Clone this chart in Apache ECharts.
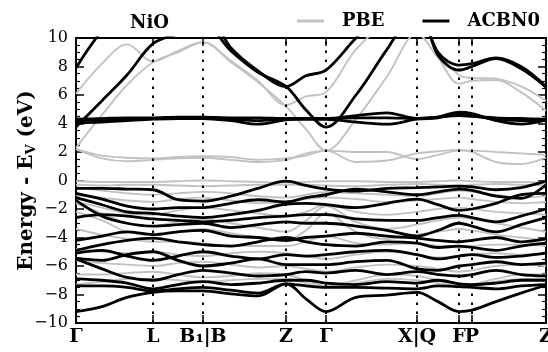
<!DOCTYPE html>
<html>
<head>
<meta charset="utf-8">
<script src="https://cdn.jsdelivr.net/npm/echarts@6/dist/echarts.min.js"></script>
<style>
html,body{margin:0;padding:0;background:#fff;}
#chart{width:548px;height:352px;}
</style>
</head>
<body>
<div id="chart"></div>
<script>
// k-path sampling positions (path coordinate) and high-symmetry labels
const kPath = [0, 26, 51, 77, 102, 127, 155, 182, 210, 230, 250, 280, 311, 341, 362, 383, 396, 420, 445, 470];
const kTicks = [0, 77, 127, 210, 250, 341, 383, 396, 470];
const kLabels = ['Γ', 'L', 'B₁|B', 'Z', 'Γ', 'X|Q', 'F', 'P', 'Z'];
const energyMin = -10, energyMax = 10, energyStep = 2;

// PBE bands (grey), energies in eV at each kPath point
const pbeBands = [
  [2.2,1.75,1.6,1.55,1.65,1.7,1.65,1.45,1.55,1.75,2.1,1.3,1.4,1.9,2.05,2.15,2.0,1.3,1.15,1.6],
  [2.2,1.55,1.35,1.45,1.55,1.6,1.45,1.3,1.45,1.9,2.1,2.0,2.0,1.5,1.8,2.1,2.1,2.0,1.9,1.8],
  [6.1,8.2,9.55,8.35,9.1,9.7,8.3,6.9,5.2,3.6,2.1,4.3,7.3,10.3,8.6,6.8,7.0,7.05,6.2,4.9],
  [2.3,4.6,6.7,8.3,9.0,9.7,8.4,7.0,5.3,5.9,6.2,9.2,11,11.5,9.0,7.4,7.2,7.15,6.6,5.6],
  [-0.05,-0.1,-0.1,-0.1,-0.05,0.0,-0.05,-0.1,-0.15,-0.1,-0.05,-0.05,-0.1,-0.1,-0.05,0.0,-0.05,-0.1,-0.1,-0.15],
  [-0.3,-0.35,-0.3,-0.3,-0.35,-0.4,-0.35,-0.3,-0.3,-0.3,-0.35,-0.4,-0.3,-0.25,-0.3,-0.35,-0.3,-0.25,-0.3,-0.35],
  [-0.5,-0.7,-0.9,-1.0,-0.9,-0.8,-0.9,-1.1,-1.2,-1.0,-0.8,-0.9,-1.0,-1.1,-0.9,-0.7,-0.8,-1.0,-1.2,-1.1],
  [-1.0,-1.2,-1.4,-1.5,-1.3,-1.2,-1.4,-1.6,-1.5,-1.3,-1.2,-1.3,-1.5,-1.4,-1.3,-1.2,-1.3,-1.5,-1.6,-1.5],
  [-1.5,-1.9,-2.3,-2.4,-2.1,-1.9,-2.1,-2.3,-2.5,-2.2,-1.7,-2.2,-2.4,-2.2,-2.0,-1.9,-2.0,-2.2,-2.3,-2.4],
  [-1.6,-2.3,-3.0,-3.2,-2.9,-2.7,-3.0,-3.3,-3.6,-2.8,-1.8,-2.9,-3.4,-3.1,-2.8,-2.6,-2.7,-3.0,-3.3,-3.6],
  [-2.2,-2.8,-3.6,-3.8,-3.6,-3.4,-3.7,-4.0,-4.2,-3.5,-2.3,-3.6,-4.1,-3.8,-3.6,-3.4,-3.5,-3.8,-4.0,-4.2],
  [-3.4,-3.8,-4.1,-4.3,-4.3,-4.4,-4.6,-4.6,-4.6,-4.3,-3.9,-4.4,-4.5,-4.4,-4.6,-4.7,-4.6,-4.5,-4.5,-4.6],
  [-4.8,-5.0,-5.1,-5.0,-5.2,-5.3,-5.1,-5.0,-5.1,-5.3,-5.5,-5.2,-5.0,-5.2,-5.4,-5.3,-5.2,-5.1,-5.2,-5.1],
  [-5.6,-5.8,-5.9,-6.0,-5.8,-5.7,-5.9,-6.1,-6.0,-6.2,-6.4,-6.1,-5.9,-6.0,-6.2,-6.4,-6.3,-6.0,-5.9,-6.0],
  [-6.6,-6.6,-6.5,-6.4,-6.6,-6.8,-6.7,-6.5,-6.6,-7.0,-7.4,-7.0,-6.6,-6.7,-7.0,-7.4,-7.3,-6.9,-6.6,-6.6],
  [-7.3,-7.1,-6.9,-6.9,-7.0,-7.1,-7.0,-6.9,-6.9,-7.2,-7.5,-7.2,-6.9,-7.0,-7.2,-7.5,-7.4,-7.1,-6.9,-6.9]
];

// ACBN0 bands (black), energies in eV at each kPath point
const acbn0Bands = [
  [4.3,4.35,4.4,4.4,4.45,4.45,4.4,4.4,4.35,4.35,4.35,4.4,4.4,4.35,4.45,4.55,4.5,4.4,4.35,4.3],
  [4.05,4.1,4.2,4.3,4.35,4.35,4.2,3.95,4.25,4.35,4.35,4.55,4.75,4.35,4.45,4.8,4.7,4.2,3.95,4.25],
  [4.2,4.25,4.3,4.35,4.4,4.4,4.3,4.2,4.3,4.3,4.3,4.1,3.95,4.3,4.4,4.7,4.55,4.3,4.2,4.2],
  [3.75,5.6,7.4,9.6,10.3,11,9.1,7.6,6.6,4.95,3.75,6.0,9.2,12,9.0,8.1,8.2,8.6,8.0,6.6],
  [7.9,10.5,12,12,12,12,9.3,7.7,6.6,7.35,7.75,10.0,12,12,8.8,7.75,8.0,8.55,7.85,6.55],
  [-0.55,-0.55,-0.6,-0.65,-1.35,-1.45,-1.1,-0.55,-0.05,-0.35,-0.6,-0.75,-0.55,-0.5,-0.45,-0.4,-0.45,-0.65,-0.5,-0.05],
  [-0.9,-1.3,-1.8,-2.0,-1.9,-1.9,-1.6,-1.35,-1.5,-1.2,-1.0,-0.6,-0.8,-1.0,-0.8,-0.6,-0.7,-1.1,-1.25,-0.3],
  [-1.2,-1.7,-2.2,-2.3,-2.5,-2.6,-2.4,-2.1,-1.65,-1.6,-1.7,-1.9,-1.6,-1.3,-1.7,-2.1,-2.0,-1.6,-1.0,-0.9],
  [-2.6,-2.4,-2.5,-2.7,-2.8,-2.9,-2.8,-2.6,-2.5,-2.4,-2.4,-2.7,-2.8,-2.8,-2.6,-2.45,-2.6,-2.9,-2.5,-2.0],
  [-1.4,-2.5,-3.0,-3.2,-3.1,-3.0,-3.3,-3.1,-2.9,-3.0,-3.0,-3.2,-3.5,-3.9,-3.5,-3.0,-3.2,-3.6,-3.1,-2.6],
  [-4.2,-3.9,-3.6,-3.8,-3.6,-3.5,-3.9,-4.0,-4.2,-4.0,-3.9,-3.7,-3.9,-4.05,-4.2,-4.3,-4.2,-4.0,-4.3,-4.1],
  [-4.9,-4.5,-4.2,-4.05,-4.3,-4.5,-4.6,-4.3,-4.0,-4.3,-4.5,-4.6,-4.3,-4.4,-4.7,-4.6,-4.7,-4.9,-4.6,-4.4],
  [-5.1,-4.9,-5.3,-5.6,-5.3,-5.0,-5.3,-5.5,-5.2,-5.3,-5.2,-5.0,-4.9,-5.2,-5.5,-5.3,-5.2,-5.4,-5.3,-5.1],
  [-5.45,-5.6,-5.2,-5.0,-5.6,-6.0,-5.8,-5.5,-5.9,-5.9,-5.9,-5.7,-5.6,-6.2,-6.3,-6.0,-5.9,-5.7,-5.9,-5.8],
  [-5.5,-6.2,-6.8,-7.0,-6.6,-6.3,-6.5,-6.7,-6.6,-6.4,-6.5,-6.3,-6.6,-6.4,-6.6,-6.7,-6.6,-6.3,-6.6,-6.7],
  [-6.9,-7.0,-7.2,-7.6,-7.3,-7.1,-7.3,-7.2,-7.0,-7.0,-7.2,-7.3,-7.1,-7.2,-7.0,-7.25,-7.3,-7.2,-7.0,-7.0],
  [-7.4,-7.4,-7.5,-7.75,-7.6,-7.5,-7.7,-7.9,-7.25,-7.4,-7.5,-7.5,-7.55,-7.6,-7.4,-7.45,-7.5,-7.6,-7.4,-7.3],
  [-9.2,-8.85,-8.2,-7.85,-7.75,-7.75,-7.95,-8.1,-7.25,-8.3,-9.2,-8.2,-8.05,-7.85,-8.5,-9.2,-9.1,-8.5,-7.9,-7.35]
];

const PBE_COLOR = '#c2c2c2';
const ACBN0_COLOR = '#000000';
const SERIF = 'DejaVu Serif';

function labelFor(v) {
  const i = kTicks.indexOf(v);
  return i >= 0 ? kLabels[i] : '';
}

function bandSeries(bands, name, color, width, z) {
  return bands.map(b => ({
    type: 'line',
    name: name,
    data: kPath.map((k, i) => [k, b[i]]),
    showSymbol: false,
    symbol: 'none',
    smooth: 0.35,
    clip: true,
    silent: true,
    color: color,
    itemStyle: { color: color },
    lineStyle: { color: color, width: width },
    z: z
  }));
}

const series = [
  {
    type: 'line',
    name: 'kdivs',
    data: [],
    silent: true,
    z: 1,
    markLine: {
      silent: true,
      symbol: ['none', 'none'],
      label: { show: false },
      lineStyle: { color: '#000', width: 2, type: [2.5, 6.5] },
      data: kTicks.slice(1, -1).map(k => ({ xAxis: k }))
    }
  },
  ...bandSeries(pbeBands, 'PBE', PBE_COLOR, 1.9, 2),
  ...bandSeries(acbn0Bands, 'ACBN0', ACBN0_COLOR, 2.8, 3)
];

const axisLine = { show: true, onZero: false, lineStyle: { color: '#000', width: 2 } };

const chart = echarts.init(document.getElementById('chart'), null, { renderer: 'canvas' });
chart.setOption({
  animation: false,
  backgroundColor: '#fff',
  title: {
    text: 'NiO', left: 125, top: 9,
    textStyle: { fontFamily: SERIF, fontWeight: 'bold', fontSize: 18, color: '#000' }
  },
  legend: {
    data: ['PBE', 'ACBN0'],
    left: 297, top: 12, width: 251, padding: 0,
    icon: 'rect', itemWidth: 27, itemHeight: 3, itemGap: 38,
    selectedMode: false,
    textStyle: { fontFamily: SERIF, fontWeight: 'bold', fontSize: 18, color: '#000', padding: [0, 0, 0, 13] }
  },
  grid: { left: 76, right: 2, top: 38, bottom: 29, containLabel: false, outerBoundsMode: 'none' },
  xAxis: [
    {
      type: 'value', min: 0, max: 470, position: 'bottom',
      axisLine: axisLine,
      axisTick: { show: true, inside: true, length: 8, customValues: kTicks, lineStyle: { color: '#000', width: 1.5 } },
      axisLabel: { show: true, customValues: kTicks, formatter: labelFor, margin: 5,
        fontFamily: SERIF, fontWeight: 'bold', fontSize: 19, color: '#000' },
      splitLine: { show: false }
    },
    {
      type: 'value', min: 0, max: 470, position: 'top',
      axisLine: axisLine,
      axisTick: { show: true, inside: true, length: 8, customValues: kTicks, lineStyle: { color: '#000', width: 1.5 } },
      axisLabel: { show: false },
      splitLine: { show: false }
    }
  ],
  yAxis: [
    {
      type: 'value', min: energyMin, max: energyMax, interval: energyStep, position: 'left',
      axisLine: axisLine,
      axisTick: { show: true, inside: true, length: 8, lineStyle: { color: '#000', width: 1.5 } },
      minorTick: { show: true, splitNumber: 4, length: 4, lineStyle: { color: '#000', width: 1.2 } },
      axisLabel: { formatter: v => String(v).replace('-', '\u2212'), margin: 8,
        fontFamily: SERIF, fontSize: 16, color: '#000' },
      splitLine: { show: false },
      name: '{n|Energy - E}{s|V}{n| (eV)}',
      nameLocation: 'middle', nameGap: 38, nameRotate: 90, nameMoveOverlap: false,
      nameTextStyle: {
        rich: {
          n: { fontFamily: SERIF, fontWeight: 'bold', fontSize: 20, color: '#000' },
          s: { fontFamily: SERIF, fontWeight: 'bold', fontSize: 13, color: '#000', padding: [9, 0, 0, 0] }
        }
      }
    },
    {
      type: 'value', min: energyMin, max: energyMax, interval: energyStep, position: 'right',
      axisLine: axisLine,
      axisTick: { show: true, inside: true, length: 8, lineStyle: { color: '#000', width: 1.5 } },
      minorTick: { show: true, splitNumber: 4, length: 4, lineStyle: { color: '#000', width: 1.2 } },
      axisLabel: { show: false },
      splitLine: { show: false }
    }
  ],
  series: series
});
</script>
</body>
</html>
